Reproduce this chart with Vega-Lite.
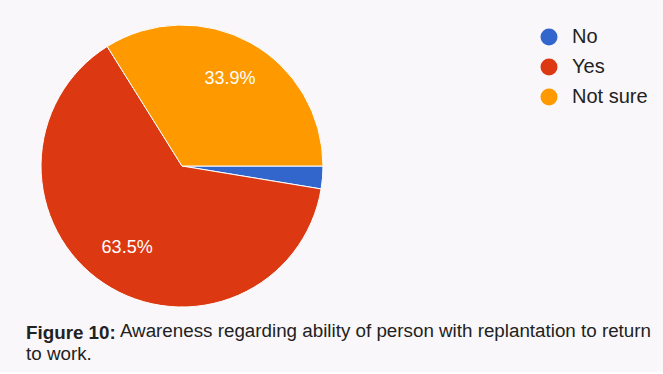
{
  "$schema": "https://vega.github.io/schema/vega-lite/v6.json",
  "background": "#f9f7f9",
  "padding": {"left": 26, "top": 23, "right": 18, "bottom": 8},
  "datasets": {
    "answers": [
      {"answer": "No", "share": 0.026},
      {"answer": "Yes", "share": 0.635},
      {"answer": "Not sure", "share": 0.339}
    ]
  },
  "config": {
    "view": {"stroke": null, "fill": "white"},
    "concat": {"spacing": 0}
  },
  "title": {
    "text": "Figure 10:",
    "subtitle": ["\u200b\u00a0\u00a0\u00a0\u00a0\u00a0\u00a0\u00a0\u00a0\u00a0\u00a0\u00a0\u00a0\u00a0\u00a0\u00a0\u00a0\u00a0\u00a0Awareness regarding ability of person with replantation to return", "to work."],
    "orient": "bottom",
    "anchor": "start",
    "frame": "group",
    "font": "Liberation Sans",
    "fontSize": 18.8,
    "fontWeight": "bold",
    "color": "#222222",
    "lineHeight": 21,
    "subtitleFont": "Liberation Sans",
    "subtitleFontSize": 18.8,
    "subtitleFontWeight": "normal",
    "subtitleColor": "#222222",
    "subtitleLineHeight": 23,
    "subtitlePadding": -21,
    "offset": 15,
    "dx": -7
  },
  "hconcat": [
    {
      "width": 298,
      "height": 286,
      "data": {"name": "answers"},
      "encoding": {
        "theta": {
          "field": "share",
          "type": "quantitative",
          "stack": true,
          "scale": {"domain": [0, 1], "range": [1.7342, 8.0174]}
        },
        "order": {"field": "answer", "type": "ordinal", "sort": "descending"}
      },
      "layer": [
        {
          "mark": {"type": "arc", "outerRadius": 141, "stroke": "white", "strokeWidth": 1},
          "encoding": {
            "color": {
              "field": "answer",
              "type": "nominal",
              "scale": {"domain": ["No", "Yes", "Not sure"], "range": ["#3366cc", "#dc3912", "#ff9900"]},
              "legend": {
                "orient": "none",
                "legendX": 506,
                "legendY": 4,
                "title": null,
                "padding": 0,
                "symbolType": "circle",
                "symbolSize": 289,
                "symbolStrokeWidth": 0,
                "symbolOpacity": 1,
                "labelFont": "Liberation Sans",
                "labelFontSize": 20,
                "labelColor": "#222222",
                "labelOffset": 13,
                "rowPadding": 10
              }
            }
          }
        },
        {
          "mark": {"type": "text", "radius": 99, "font": "Liberation Sans", "fontSize": 18, "fill": "white"},
          "encoding": {
            "detail": {"field": "answer"},
            "text": {
              "condition": {"test": "datum.share < 0.05", "value": ""},
              "field": "share",
              "type": "quantitative",
              "format": ".1%"
            }
          }
        }
      ]
    },
    {
      "width": 314,
      "height": 286,
      "data": {"name": "answers"},
      "mark": {"type": "point", "opacity": 0},
      "encoding": {}
    }
  ]
}
